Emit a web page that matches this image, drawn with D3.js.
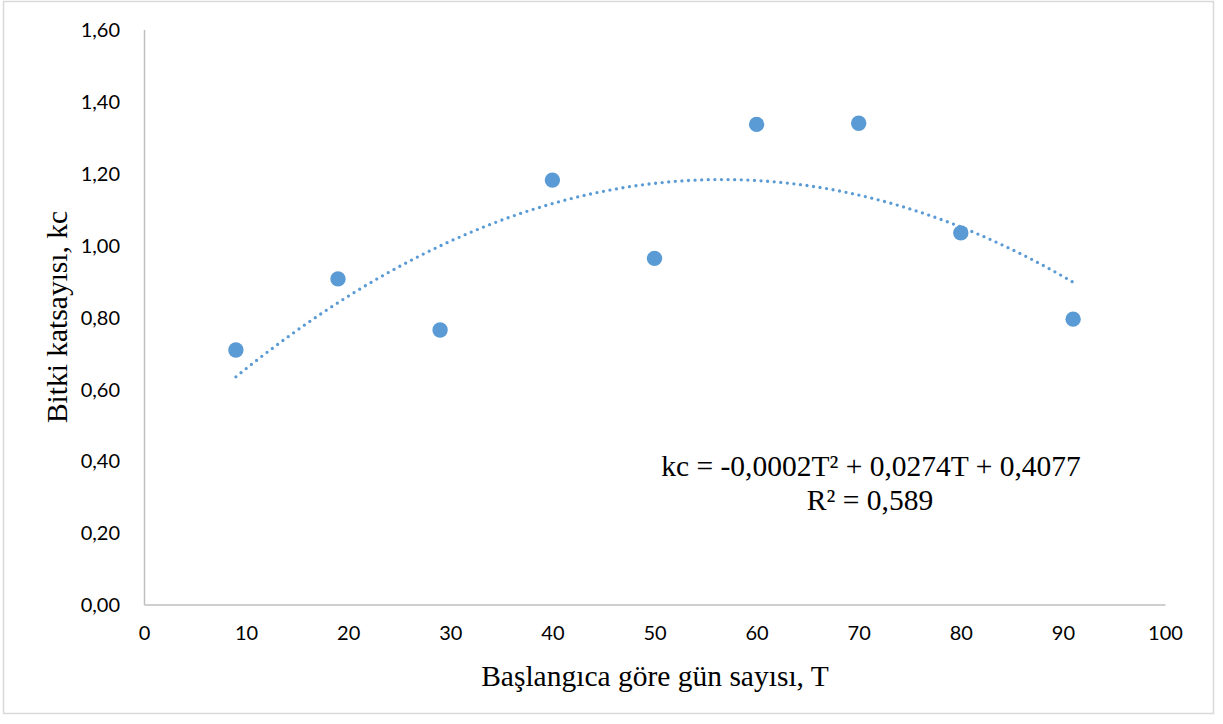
<!DOCTYPE html>
<html>
<head>
<meta charset="utf-8">
<script src="https://cdn.jsdelivr.net/npm/d3@7"></script>
<style>
  html, body { margin: 0; padding: 0; background: #fff; }
  svg { display: block; }
  .tick text { font-family: Lato, "Open Sans", sans-serif; font-size: 20px; fill: #000; }
  .title { font-family: "Liberation Serif", "Times New Roman", serif; fill: #000; }
</style>
</head>
<body>
<svg id="chart" width="1223" height="724"></svg>
<script>
// Days since start (T) and measured crop coefficient (kc)
const days = [9, 19, 29, 40, 50, 60, 70, 80, 91];
const kcValues = [0.708, 0.906, 0.764, 1.181, 0.963, 1.336, 1.339, 1.034, 0.794];
const xTicks = [0, 10, 20, 30, 40, 50, 60, 70, 80, 90, 100];
const yTicks = [0, 0.2, 0.4, 0.6, 0.8, 1.0, 1.2, 1.4, 1.6];
const equationText = "kc = -0,0002T² + 0,0274T + 0,4077";
const r2Text = "R² = 0,589";

const svg = d3.select("#chart");
const plotLeft = 144, plotRight = 1165, plotTop = 29.5, plotBottom = 604.5;
const colour = "#5b9bd5";
const titleSize = 29.5;

// outer chart frame
svg.append("rect").attr("x", 3.5).attr("y", 1.5).attr("width", 1210).attr("height", 712)
  .attr("fill", "#fff").attr("stroke", "#d9d9d9").attr("stroke-width", 1.5);

const x = d3.scaleLinear().domain([0, 100]).range([plotLeft, plotRight]);
const y = d3.scaleLinear().domain([0, 1.6]).range([plotBottom, plotTop]);
const fmt = v => d3.format(".2f")(v).replace(".", ",");

// Y axis
const gy = svg.append("g").attr("transform", `translate(${plotLeft},0)`)
  .call(d3.axisLeft(y).tickValues(yTicks).tickFormat(fmt).tickSize(0).tickPadding(24));
gy.select(".domain").attr("stroke", "#bfbfbf").attr("stroke-width", 1.5);
gy.selectAll(".tick text").attr("dy", "0.36em");

// X axis
const gx = svg.append("g").attr("transform", `translate(0,${plotBottom})`)
  .call(d3.axisBottom(x).tickValues(xTicks).tickFormat(d3.format("d")).tickSize(0).tickPadding(21));
gx.select(".domain").attr("stroke", "#bfbfbf").attr("stroke-width", 1.5);

// Least-squares quadratic trend fitted to the measurements
function quadFit(xs, ys) {
  const n = xs.length;
  const s = [0, 0, 0, 0, 0], t = [0, 0, 0];
  for (let i = 0; i < n; i++) {
    let p = 1;
    for (let k = 0; k <= 4; k++) { s[k] += p; if (k <= 2) t[k] += p * ys[i]; p *= xs[i]; }
  }
  const A = [[s[0], s[1], s[2], t[0]], [s[1], s[2], s[3], t[1]], [s[2], s[3], s[4], t[2]]];
  for (let c = 0; c < 3; c++) {
    for (let r = c + 1; r < 3; r++) {
      const f = A[r][c] / A[c][c];
      for (let k = c; k < 4; k++) A[r][k] -= f * A[c][k];
    }
  }
  const b = [0, 0, 0];
  for (let r = 2; r >= 0; r--) {
    let v = A[r][3];
    for (let k = r + 1; k < 3; k++) v -= A[r][k] * b[k];
    b[r] = v / A[r][r];
  }
  return b; // c0, c1, c2
}
const coef = quadFit(days, kcValues);
const tMin = d3.min(days), tMax = d3.max(days);
const trend = d3.range(tMin, tMax + 0.001, 0.5).map(t => [t, coef[0] + coef[1] * t + coef[2] * t * t]);

svg.append("path")
  .datum(trend)
  .attr("fill", "none")
  .attr("stroke", colour)
  .attr("stroke-width", 3.3)
  .attr("stroke-linecap", "round")
  .attr("stroke-dasharray", "0 6.6")
  .attr("d", d3.line().x(d => x(d[0])).y(d => y(d[1])));

// Data points
svg.append("g").selectAll("circle")
  .data(days.map((d, i) => [d, kcValues[i]]))
  .join("circle")
  .attr("cx", d => x(d[0]))
  .attr("cy", d => y(d[1]))
  .attr("r", 7.7)
  .attr("fill", colour);

// Trend equation label
svg.append("text").attr("class", "title").attr("x", 871).attr("y", 476)
  .attr("text-anchor", "middle").attr("font-size", titleSize).text(equationText);
svg.append("text").attr("class", "title").attr("x", 870).attr("y", 510)
  .attr("text-anchor", "middle").attr("font-size", titleSize).text(r2Text);

// Axis titles
svg.append("text").attr("class", "title").attr("x", 655).attr("y", 686)
  .attr("text-anchor", "middle").attr("font-size", titleSize).text("Başlangıca göre gün sayısı, T");
svg.append("text").attr("class", "title")
  .attr("transform", `translate(67,${(plotTop + plotBottom) / 2}) rotate(-90)`)
  .attr("text-anchor", "middle").attr("font-size", titleSize).text("Bitki katsayısı, kc");
</script>
</body>
</html>
